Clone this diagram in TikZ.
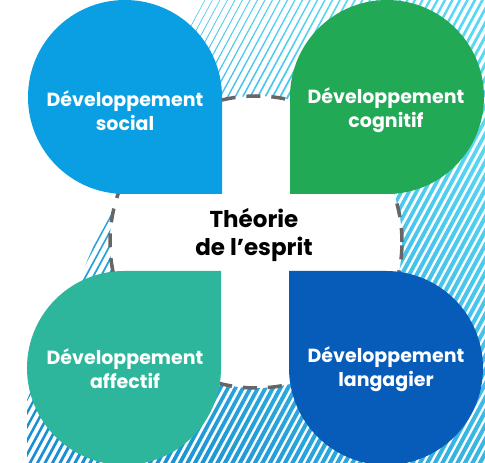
\documentclass[tikz,border=0pt]{standalone}
\usepackage{fontspec}
\setmainfont{Poppins}
\usepackage{xcolor}
\usepackage{tikz}

\definecolor{socialblue}{HTML}{0A9FE2}
\definecolor{cognitgreen}{HTML}{21A956}
\definecolor{affectteal}{HTML}{2DB69C}
\definecolor{langblue}{HTML}{075CBA}
\definecolor{stripelight}{HTML}{58D8F5}
\definecolor{stripedark}{HTML}{1890D2}
\definecolor{dashgray}{HTML}{666666}

\begin{document}
\begin{tikzpicture}[x=1pt, y=1pt,
  petal/.style={fill=#1, draw=none},
  devtext/.style={text=white, font=\bfseries\fontsize{19}{24}\selectfont, align=center},
  ring/.style={draw=dashgray, fill=white, line width=3.5pt, dash pattern=on 14pt off 11pt, circle, minimum size=292pt}
]
\useasboundingbox (0,0) rectangle (485,463);

% striped background
\begin{scope}
  \clip (200,463) -- (485,463) -- (485,0) -- (27,0) -- (27,63) -- cycle;
  \path[clip] \foreach \i in {0,...,77}{
    \foreach \j [evaluate=\j as \ya using \j*92.6,
                 evaluate=\j as \yb using (\j+1)*92.6,
                 evaluate=\j as \xa using -90+7.5*\i+250*\j*0.2,
                 evaluate=\j as \xb using -90+7.5*\i+250*(\j+1)*0.2,
                 evaluate={\j as \wa using min(2.3,max(0.2,0.3+0.0042*(\xa+263-\ya)))},
                 evaluate={\j as \wb using min(2.3,max(0.2,0.3+0.0042*(\xb+263-\yb)))}] in {0,...,4}{
      (\xa-\wa,\ya) -- (\xa+\wa,\ya) -- (\xb+\wb,\yb) -- (\xb-\wb,\yb) -- cycle
    }
  };
  \shade[left color=stripelight, right color=stripedark, shading angle=-45] (0,0) rectangle (485,463);
\end{scope}

% dashed ring
\node[ring] (cercle) at (256,221) {};

% petals
\path[petal=socialblue] (222,366) -- (222,269) -- (125,269) arc[start angle=-90, end angle=-360, radius=97] -- cycle;
\path[petal=cognitgreen] (290,366) -- (290,269) -- (387,269) arc[start angle=-90, end angle=180, radius=97] -- cycle;
\path[petal=affectteal] (124,192) -- (221,192) -- (221,95) arc[start angle=0, end angle=-270, radius=97] -- cycle;
\path[petal=langblue] (386,192) -- (289,192) -- (289,95) arc[start angle=180, end angle=450, radius=97] -- cycle;

% labels
\node[devtext] (social) at (125,352) {Développement\\social};
\node[devtext] (cognitif) at (386,353) {Développement\\cognitif};
\node[devtext] (affectif) at (125,94) {Développement\\affectif};
\node[devtext] (langagier) at (386,94) {Développement\\langagier};
\node[devtext, text=black, font=\bfseries\fontsize{23}{28}\selectfont] (esprit) at (254,228) {Théorie\\de l’esprit};
\end{tikzpicture}
\end{document}
